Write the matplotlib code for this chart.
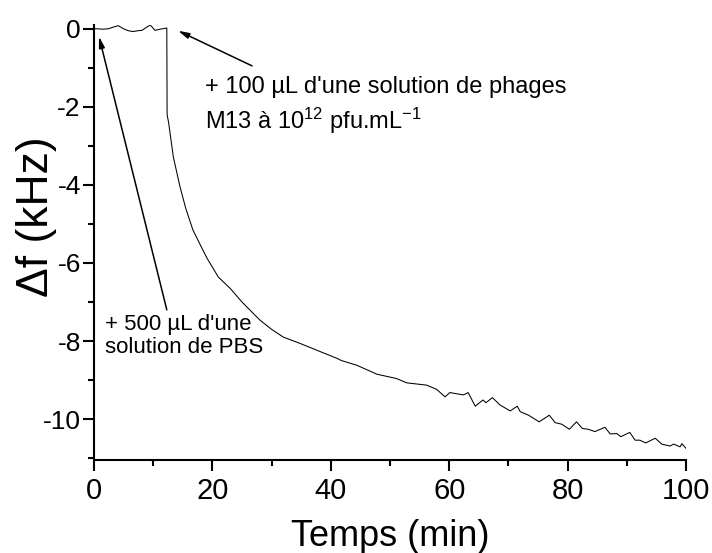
import matplotlib
matplotlib.use("Agg")
from matplotlib import pyplot as plt
from matplotlib.ticker import MultipleLocator

# police type Arial
plt.rcParams['font.family'] = ['Liberation Sans', 'DejaVu Sans']
plt.rcParams['mathtext.default'] = 'regular'
plt.rcParams['axes.unicode_minus'] = False

# temps (min) et decalage de frequence (kHz)
temps = [0.2, 0.45, 1.5, 2.4, 3.2, 4.1, 5.0, 5.8, 6.6, 7.4, 8.1, 8.9, 9.5, 10.3, 11.2, 12.3,
         12.35, 12.6, 13.4, 14.5, 15.5, 16.7, 18.0, 19.1, 21.0, 23.0, 25.0, 28.0, 30.0, 32.0,
         34.8, 38.2, 41.0, 41.8, 44.4, 47.8, 51.1, 52.8, 56.2, 57.9, 59.3, 60.1, 62.4, 63.2,
         64.4, 65.7, 66.2, 67.3, 68.6, 70.3, 71.5, 72.0, 73.4, 75.2, 76.9, 77.9, 79.0, 80.3,
         81.5, 82.5, 83.5, 84.6, 86.3, 87.2, 88.3, 89.0, 90.5, 91.4, 92.2, 93.2, 94.8, 95.9,
         97.3, 97.9, 99.0, 99.3, 100.0]
delta_f = [0.0, 0.0, -0.01, 0.0, 0.04, 0.08, 0.0, -0.05, -0.07, -0.05, -0.04, 0.04, 0.1, -0.04, -0.01, 0.02,
           -2.2, -2.4, -3.28, -4.03, -4.6, -5.15, -5.55, -5.88, -6.36, -6.65, -7.0, -7.46, -7.7, -7.9,
           -8.06, -8.27, -8.44, -8.5, -8.62, -8.85, -8.96, -9.07, -9.13, -9.24, -9.43, -9.32, -9.38, -9.32,
           -9.67, -9.51, -9.58, -9.45, -9.64, -9.79, -9.67, -9.81, -9.9, -10.07, -9.9, -10.09, -10.13, -10.26,
           -10.07, -10.24, -10.26, -10.32, -10.21, -10.38, -10.37, -10.45, -10.34, -10.54, -10.54, -10.61, -10.49, -10.64,
           -10.69, -10.64, -10.71, -10.63, -10.75]

fig = plt.figure(figsize=(7.12, 5.53), dpi=100)
ax = fig.add_axes([0.132, 0.168, 0.8315, 0.787])

ax.plot(temps, delta_f, color='black', lw=0.75)

ax.set_xlim(0, 100)
ax.set_ylim(-11.05, 0.1)

# axes style Origin
for side in ['top', 'right']:
    ax.spines[side].set_visible(False)
for side in ['left', 'bottom']:
    ax.spines[side].set_linewidth(1.5)
ax.xaxis.set_major_locator(MultipleLocator(20))
ax.xaxis.set_minor_locator(MultipleLocator(10))
ax.yaxis.set_major_locator(MultipleLocator(2))
ax.yaxis.set_minor_locator(MultipleLocator(1))
ax.tick_params(which='major', direction='out', length=8, width=1.5)
ax.tick_params(which='minor', direction='out', length=4.5, width=1.5)
ax.tick_params(axis='x', labelsize=21, pad=4)
ax.tick_params(axis='y', labelsize=19, pad=1.5)

ax.set_xlabel('Temps (min)', fontsize=26, labelpad=10)
ax.set_ylabel('Δf (kHz)', fontsize=32)
ax.yaxis.set_label_coords(-0.063, 0.56)

# fleches
fleche = dict(arrowstyle='-|>,head_length=0.65,head_width=0.17', color='black', lw=1.1,
              shrinkA=0, shrinkB=0)
ax.annotate('', xy=(14.2, -0.05), xytext=(26.7, -0.95), arrowprops=fleche)
ax.annotate('', xy=(0.85, -0.2), xytext=(12.3, -7.2), arrowprops=fleche)

ax.text(18.75, -1.22, "+ 100 µL d'une solution de phages\nM13 à 10$^{12}$ pfu.mL$^{-1}$",
        fontsize=17, va='top', ha='left', linespacing=1.3)
ax.text(1.9, -7.3, "+ 500 µL d'une\nsolution de PBS",
        fontsize=16, va='top', ha='left', linespacing=1.15)

plt.savefig('out.png', dpi=100)
